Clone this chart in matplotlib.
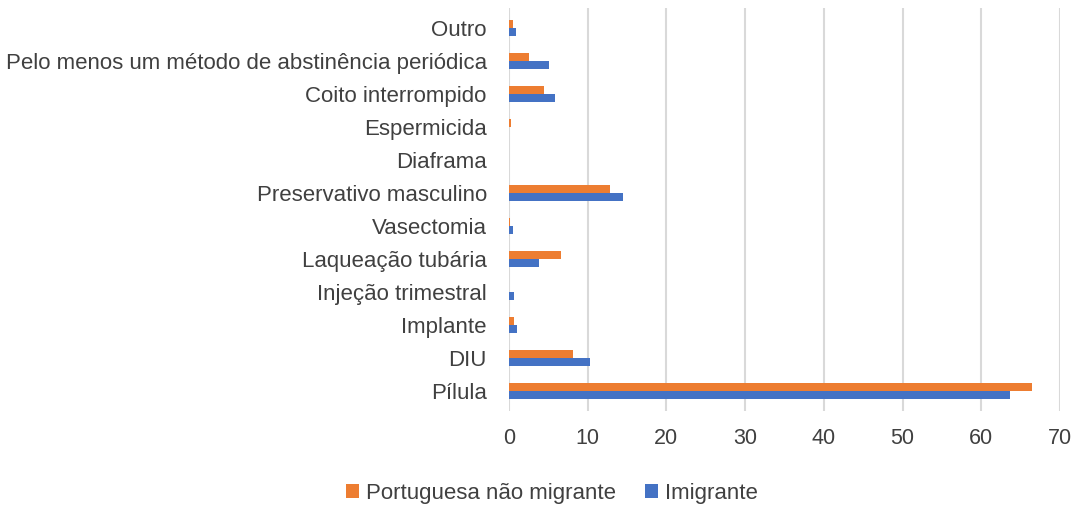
import matplotlib.pyplot as plt
import numpy as np

categorias = ['Pílula', 'DIU', 'Implante', 'Injeção trimestral', 'Laqueação tubária',
              'Vasectomia', 'Preservativo masculino', 'Diaframa', 'Espermicida',
              'Coito interrompido', 'Pelo menos um método de abstinência periódica', 'Outro']
portuguesa = [66.4, 8.1, 0.6, 0.0, 6.6, 0.1, 12.8, 0.0, 0.2, 4.4, 2.55, 0.5]
imigrante = [63.7, 10.3, 1.0, 0.6, 3.85, 0.45, 14.5, 0.0, 0.0, 5.9, 5.1, 0.85]
xticks = [0, 10, 20, 30, 40, 50, 60, 70]

plt.rcParams['font.family'] = ['Liberation Sans', 'DejaVu Sans']

fig = plt.figure(figsize=(10.81, 5.09), dpi=100)
ax = fig.add_axes([509 / 1081, 1 - 411 / 509, (1060 - 509) / 1081, (411 - 8) / 509])

y = np.arange(len(categorias))
h = 0.25
ax.barh(y + h / 2, portuguesa, height=h, color='#ED7D31', label='Portuguesa não migrante', zorder=3)
ax.barh(y - h / 2, imigrante, height=h, color='#4472C4', label='Imigrante', zorder=3)

ax.set_xlim(0, 70)
ax.set_ylim(-0.6, len(categorias) - 0.4)
ax.set_xticks(xticks)
ax.set_yticks(y)
ax.set_yticklabels(categorias)
ax.xaxis.grid(True, color='#D9D9D9', linewidth=1.5, zorder=0)
ax.tick_params(axis='both', length=0, labelsize=15.5, colors='#404040')
ax.tick_params(axis='y', labelsize=16, pad=16)
ax.tick_params(axis='x', pad=12)
for s in ax.spines.values():
    s.set_visible(False)

fig.legend(loc='center', bbox_to_anchor=(552 / 1081, 1 - 493 / 509), ncol=2, frameon=False,
           fontsize=16, handlelength=0.6, handleheight=0.6, columnspacing=1.3,
           handletextpad=0.3, labelcolor='#404040')

fig.savefig('out.png', dpi=100)
